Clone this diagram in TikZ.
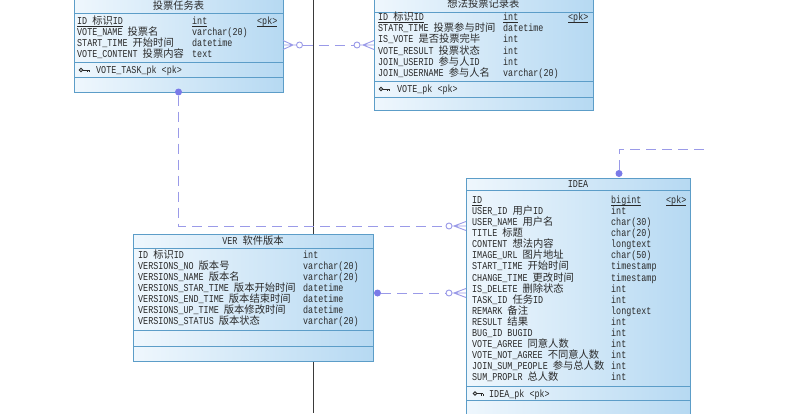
\documentclass[tikz,border=0pt]{standalone}
\usepackage{fontspec}
\setmonofont[FakeStretch=0.8]{Liberation Mono}
\newfontfamily\cjk[Scale=0.98]{Noto Sans CJK SC}
\newcommand\zh[1]{{\cjk #1}}
\newcommand\ul[1]{\underline{\smash{#1}}}
\usetikzlibrary{calc}
\definecolor{bordc}{HTML}{5C9DC8}
\definecolor{fillL}{HTML}{EFF7FD}
\definecolor{fillR}{HTML}{B6D9F2}
\definecolor{relc}{HTML}{9A9AE8}
\definecolor{dotc}{HTML}{7A7AE8}
\definecolor{txtc}{HTML}{2A2A2A}
\definecolor{vlc}{HTML}{3A3A3A}
\tikzset{
  tbl/.style={draw=bordc, line width=0.8pt, left color=fillL, right color=fillR, inner sep=0pt, outer sep=0pt, anchor=north west},
  sepl/.style={draw=bordc, line width=0.8pt},
  txt/.style={anchor=base west, inner sep=0pt, font=\ttfamily\fontsize{10.5}{12}\selectfont, text=txtc},
  ttl/.style={anchor=base, inner sep=0pt, font=\ttfamily\fontsize{10.5}{12}\selectfont, text=txtc},
  rel/.style={draw=relc, line width=0.9pt, dash pattern=on 10pt off 6pt},
  relsolid/.style={draw=relc, line width=0.9pt},
  dotend/.style={circle, fill=dotc, inner sep=0pt, minimum size=7pt},
  ringend/.style={circle, draw=relc, fill=white, line width=0.9pt, inner sep=0pt, minimum size=6pt},
  vline/.style={draw=vlc, line width=0.9pt},
  keyln/.style={draw=txtc, line width=0.8pt},
  keyicon/.pic={
    \draw[keyln] (0,0) circle (1.8pt);
    \draw[keyln] (1.8,0) -- (8,0) (6,0) -- (6,2) (8,0) -- (8,2);
  }
}
% row: prefix, centre y, name x, type x, name, type
\newcommand\erow[6]{%
  \node[txt] (#1n) at (#3,{#2+3.6}) {#5};
  \node[txt] (#1t) at (#4,{#2+3.6}) {#6};}
\begin{document}
\begin{tikzpicture}[x=1pt,y=-1pt]
\useasboundingbox (0,0) rectangle (795,413);
\clip (0,0) rectangle (795,413);
\fill[white] (0,0) rectangle (795,413);

% vertical black line
\coordinate (vtop) at (313,0);
\coordinate (vbot) at (313,413);
\draw[vline] (vtop) -- (vbot);

% ---------- table 1: 投票任务表
\node[tbl, minimum width=209pt, minimum height=93pt] (t1) at (74,-1) {};
\draw[sepl] (74,13) -- (283,13) (74,62) -- (283,62) (74,77) -- (283,77);
\node[ttl] (t1title) at (178.5,9.5) {\zh{投票任务表}};
\erow{a1}{21}{77}{192}{\ul{ID \zh{标识}ID}}{\ul{int}}
\node[txt] (a1pk) at (257,24.6) {\ul{<pk>}};
\erow{a2}{32}{77}{192}{VOTE\_NAME \zh{投票名}}{varchar(20)}
\erow{a3}{43}{77}{192}{START\_TIME \zh{开始时间}}{datetime}
\erow{a4}{54}{77}{192}{VOTE\_CONTENT \zh{投票内容}}{text}
\pic (k1) at (81,70) {keyicon};
\node[txt] (a5) at (96,73.6) {VOTE\_TASK\_pk <pk>};

% ---------- table 2: 想法投票记录表
\node[tbl, minimum width=219pt, minimum height=113pt] (t2) at (374,-3) {};
\draw[sepl] (374,12) -- (593,12) (374,81) -- (593,81) (374,97) -- (593,97);
\node[ttl] (t2title) at (483.5,7.5) {\zh{想法投票记录表}};
\erow{b1}{17}{378}{503}{\ul{ID \zh{标识}ID}}{\ul{int}}
\node[txt] (b1pk) at (568,20.6) {\ul{<pk>}};
\erow{b2}{28}{378}{503}{STATR\_TIME \zh{投票参与时间}}{datetime}
\erow{b3}{39.2}{378}{503}{IS\_VOTE \zh{是否投票完毕}}{int}
\erow{b4}{50.4}{378}{503}{VOTE\_RESULT \zh{投票状态}}{int}
\erow{b5}{61.6}{378}{503}{JOIN\_USERID \zh{参与人}ID}{int}
\erow{b6}{72.8}{378}{503}{JOIN\_USERNAME \zh{参与人名}}{varchar(20)}
\pic (k2) at (381,89) {keyicon};
\node[txt] (b7) at (397,92.6) {VOTE\_pk <pk>};

% ---------- table 3: VER 软件版本
\node[tbl, minimum width=240pt, minimum height=127pt] (t3) at (133,234) {};
\draw[sepl] (133,248) -- (373,248) (133,330) -- (373,330) (133,346) -- (373,346);
\node[ttl] (t3title) at (253,244.6) {VER \zh{软件版本}};
\erow{c1}{255}{138}{303}{ID \zh{标识}ID}{int}
\erow{c2}{266}{138}{303}{VERSIONS\_NO \zh{版本号}}{varchar(20)}
\erow{c3}{277}{138}{303}{VERSIONS\_NAME \zh{版本名}}{varchar(20)}
\erow{c4}{288}{138}{303}{VERSIONS\_STAR\_TIME \zh{版本开始时间}}{datetime}
\erow{c5}{299}{138}{303}{VERSIONS\_END\_TIME \zh{版本结束时间}}{datetime}
\erow{c6}{310}{138}{303}{VERSIONS\_UP\_TIME \zh{版本修改时间}}{datetime}
\erow{c7}{321}{138}{303}{VERSIONS\_STATUS \zh{版本状态}}{varchar(20)}

% ---------- table 4: IDEA
\node[tbl, minimum width=224pt, minimum height=247pt] (t4) at (466,178) {};
\draw[sepl] (466,190) -- (690,190) (466,386) -- (690,386) (466,400) -- (690,400);
\node[ttl] (t4title) at (578,187.6) {IDEA};
\erow{d1}{200}{472}{611}{\ul{ID}}{\ul{bigint}}
\node[txt] (d1pk) at (666,203.6) {\ul{<pk>}};
\erow{d2}{211.06}{472}{611}{USER\_ID \zh{用户}ID}{int}
\erow{d3}{222.12}{472}{611}{USER\_NAME \zh{用户名}}{char(30)}
\erow{d4}{233.18}{472}{611}{TITLE \zh{标题}}{char(20)}
\erow{d5}{244.24}{472}{611}{CONTENT \zh{想法内容}}{longtext}
\erow{d6}{255.30}{472}{611}{IMAGE\_URL \zh{图片地址}}{char(50)}
\erow{d7}{266.36}{472}{611}{START\_TIME \zh{开始时间}}{timestamp}
\erow{d8}{277.42}{472}{611}{CHANGE\_TIME \zh{更改时间}}{timestamp}
\erow{d9}{288.48}{472}{611}{IS\_DELETE \zh{删除状态}}{int}
\erow{d10}{299.54}{472}{611}{TASK\_ID \zh{任务}ID}{int}
\erow{d11}{310.60}{472}{611}{REMARK \zh{备注}}{longtext}
\erow{d12}{321.66}{472}{611}{RESULT \zh{结果}}{int}
\erow{d13}{332.72}{472}{611}{BUG\_ID BUGID}{int}
\erow{d14}{343.78}{472}{611}{VOTE\_AGREE \zh{同意人数}}{int}
\erow{d15}{354.84}{472}{611}{VOTE\_NOT\_AGREE \zh{不同意人数}}{int}
\erow{d16}{365.90}{472}{611}{JOIN\_SUM\_PEOPLE \zh{参与总人数}}{int}
\erow{d17}{376.96}{472}{611}{SUM\_PROPLR \zh{总人数}}{int}
\pic (k4) at (475,393.5) {keyicon};
\node[txt] (d18) at (489,397.1) {IDEA\_pk <pk>};

% ---------- relation 1: t1 -- t2
\node[ringend] (r1a) at (299.5,45) {};
\node[ringend] (r1b) at (357,45) {};
\coordinate (e1a) at (t1.east |- r1a);
\coordinate (e1b) at (t2.west |- r1b);
\coordinate (p1a) at (293,45);
\coordinate (p1b) at (363,45);
\draw[rel] (r1a) -- (r1b);
\draw[relsolid] (r1a.west) -- (e1a) (p1a) -- ($(e1a)+(0,4.5)$) (p1a) -- ($(e1a)+(0,-4.5)$);
\draw[relsolid] (r1b.east) -- (e1b) (p1b) -- ($(e1b)+(0,4.5)$) (p1b) -- ($(e1b)+(0,-4.5)$);

% ---------- relation 2: t1 -- t4
\node[dotend] (d2dot) at (t1.south) {};
\node[ringend] (r2) at (449,226) {};
\coordinate (e2) at (t4.west |- r2);
\coordinate (p2) at (454,226);
\draw[rel] (d2dot) |- (r2);
\draw[relsolid] (r2.east) -- (e2) (p2) -- ($(e2)+(0,4.5)$) (p2) -- ($(e2)+(0,-4.5)$);

% ---------- relation 3: t3 -- t4
\node[dotend] (d3dot) at (377.5,293) {};
\node[ringend] (r3) at (449,293) {};
\coordinate (e3) at (t4.west |- r3);
\coordinate (p3) at (454,293);
\draw[rel] (d3dot) -- (r3);
\draw[relsolid] (r3.east) -- (e3) (p3) -- ($(e3)+(0,4.5)$) (p3) -- ($(e3)+(0,-4.5)$);

% ---------- relation 4: t4 upward, off to the right
\node[dotend] (d4dot) at (619,173.5) {};
\coordinate (c4end) at (710,149);
\draw[rel] (d4dot) |- (c4end);
\end{tikzpicture}
\end{document}
